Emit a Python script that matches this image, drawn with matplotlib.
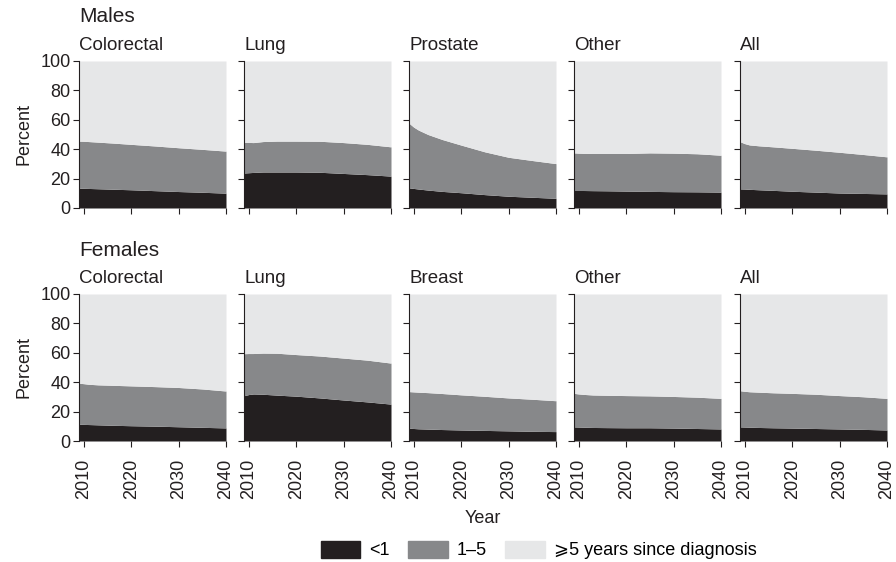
import matplotlib
matplotlib.use('Agg')
import matplotlib.pyplot as plt
from matplotlib.patches import Patch

plt.rcParams['font.family'] = ['Liberation Sans', 'DejaVu Sans']

# years of the projection
years = [2009, 2010, 2011, 2013, 2016, 2020, 2025, 2030, 2035, 2040]

# males: top of <1 band and top of 1-5 band (cumulative percent)
m_colorectal_lt1 = [13.5, 13.4, 13.3, 13.1, 12.8, 12.4, 11.8, 11.2, 10.7, 10.1]
m_colorectal_lt5 = [45.5, 45.4, 45.2, 44.8, 44.2, 43.3, 42.2, 41.0, 39.9, 38.7]
m_lung_lt1 = [23.8, 24.0, 24.2, 24.5, 24.5, 24.5, 24.3, 23.5, 22.7, 21.7]
m_lung_lt5 = [44.6, 44.6, 44.5, 45.2, 45.5, 45.5, 45.4, 44.5, 43.3, 41.6]
m_prostate_lt1 = [13.7, 13.3, 12.9, 12.2, 11.3, 10.4, 9.1, 8.0, 7.3, 6.6]
m_prostate_lt5 = [57.7, 55.0, 53.0, 50.0, 46.6, 42.8, 38.2, 34.5, 32.3, 30.2]
m_other_lt1 = [11.9, 11.9, 11.9, 11.8, 11.7, 11.5, 11.3, 11.1, 11.0, 10.8]
m_other_lt5 = [37.5, 37.3, 37.2, 37.1, 37.1, 37.1, 37.5, 37.3, 36.9, 35.9]
m_all_lt1 = [13.0, 12.9, 12.7, 12.4, 12.0, 11.4, 10.8, 10.2, 9.9, 9.6]
m_all_lt5 = [45.1, 43.8, 42.9, 42.3, 41.6, 40.6, 39.3, 37.9, 36.4, 34.8]

# females
f_colorectal_lt1 = [11.4, 11.3, 11.2, 11.0, 10.7, 10.4, 10.1, 9.7, 9.3, 8.9]
f_colorectal_lt5 = [39.3, 39.0, 38.6, 38.2, 37.9, 37.5, 37.0, 36.4, 35.4, 34.0]
f_lung_lt1 = [30.8, 31.6, 32.0, 31.8, 31.2, 30.5, 29.3, 27.9, 26.6, 25.1]
f_lung_lt5 = [59.4, 59.5, 59.5, 59.8, 59.7, 58.8, 57.8, 56.4, 55.0, 53.0]
f_breast_lt1 = [8.7, 8.5, 8.3, 8.1, 7.8, 7.5, 7.2, 6.9, 6.6, 6.4]
f_breast_lt5 = [33.6, 33.4, 33.2, 32.9, 32.3, 31.4, 30.4, 29.3, 28.4, 27.4]
f_other_lt1 = [9.6, 9.5, 9.4, 9.2, 9.1, 9.0, 9.0, 8.8, 8.5, 8.2]
f_other_lt5 = [32.4, 32.0, 31.7, 31.3, 31.1, 30.9, 30.7, 30.3, 29.8, 29.0]
f_all_lt1 = [9.6, 9.5, 9.4, 9.2, 9.0, 8.8, 8.5, 8.2, 7.9, 7.5]
f_all_lt5 = [34.2, 33.8, 33.5, 33.2, 32.8, 32.4, 31.8, 30.9, 30.1, 29.0]

male_sites = ['Colorectal', 'Lung', 'Prostate', 'Other', 'All']
female_sites = ['Colorectal', 'Lung', 'Breast', 'Other', 'All']
male_data = [(m_colorectal_lt1, m_colorectal_lt5), (m_lung_lt1, m_lung_lt5),
             (m_prostate_lt1, m_prostate_lt5), (m_other_lt1, m_other_lt5),
             (m_all_lt1, m_all_lt5)]
female_data = [(f_colorectal_lt1, f_colorectal_lt5), (f_lung_lt1, f_lung_lt5),
               (f_breast_lt1, f_breast_lt5), (f_other_lt1, f_other_lt5),
               (f_all_lt1, f_all_lt5)]

c_dark = '#231f20'
c_mid = '#87888a'
c_light = '#e6e7e8'
txt = '#231f20'

fig = plt.figure(figsize=(8.96, 5.62), dpi=100)

col_x = [79, 244, 409, 574, 740]
W, H = 896., 562.
rows = [(61, 208, male_sites, male_data, 'Males'),
        (294, 441, female_sites, female_data, 'Females')]

for top, bot, sites, data, group in rows:
    for i, (site, (lt1, lt5)) in enumerate(zip(sites, data)):
        ax = fig.add_axes([col_x[i] / W, 1 - bot / H, 147 / W, (bot - top) / H])
        ax.fill_between(years, 0, lt1, color=c_dark, lw=0)
        ax.fill_between(years, lt1, lt5, color=c_mid, lw=0)
        ax.fill_between(years, lt5, 100, color=c_light, lw=0)
        ax.set_xlim(2009, 2040)
        ax.set_ylim(0, 100)
        for s in ['top', 'right', 'bottom']:
            ax.spines[s].set_visible(False)
        ax.spines['left'].set_color(txt)
        ax.spines['left'].set_linewidth(0.8)
        ax.set_xticks([2010, 2020, 2030, 2040])
        ax.set_yticks([0, 20, 40, 60, 80, 100])
        ax.tick_params(colors=txt, labelsize=13, length=4, width=0.8)
        ax.tick_params(axis='y', pad=2)
        ax.tick_params(axis='x', labelrotation=90, pad=9)
        if bot == 208:
            ax.set_xticklabels([])
        if i > 0:
            ax.set_yticklabels([])
        else:
            ax.set_ylabel('Percent', fontsize=13, color=txt, labelpad=6)
        ax.text(0, 1.05, site, transform=ax.transAxes, fontsize=13.5,
                color=txt, ha='left', va='bottom')
        if i == 2 and bot == 441:
            ax.set_xlabel('Year', fontsize=13, color=txt, labelpad=8)
    fig.text(col_x[0] / W, 1 - (top - 44) / H, group, fontsize=15,
             color=txt, ha='left', va='center')

handles = [Patch(color=c_dark), Patch(color=c_mid), Patch(color=c_light)]
labels = ['<1', '1\u20135', '\u2a7e5 years since diagnosis']
fig.legend(handles, labels, loc='center', bbox_to_anchor=(0.601, 0.021),
           ncol=3, frameon=False, fontsize=13, handlelength=2.2,
           handleheight=1.05, columnspacing=1.0, handletextpad=0.5,
           borderpad=0.0)

fig.savefig('out.png', dpi=100)
